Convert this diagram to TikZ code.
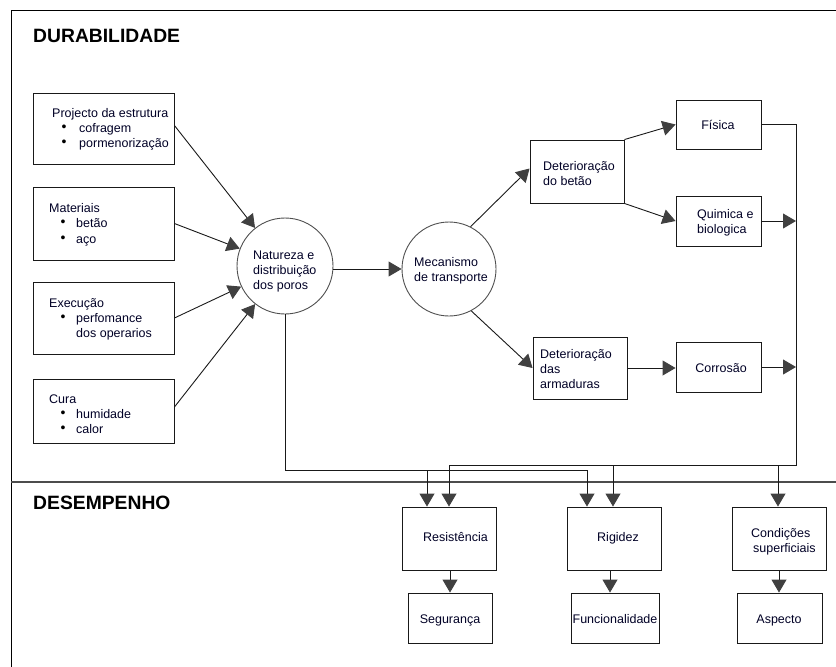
\documentclass[tikz,border=0pt]{standalone}
\usepackage{fontspec}
\setmainfont{Liberation Sans}
\usetikzlibrary{arrows.meta}
\definecolor{tipgray}{HTML}{404040}
\definecolor{circgray}{HTML}{505050}
\begin{document}
\begin{tikzpicture}[x=1pt,y=-1pt,
  ln/.style={draw=black!90, line width=0.9pt},
  arr/.style={ln, -{Triangle[length=13pt,width=15pt,color=tipgray]}},
  box/.style={draw=black!90, line width=0.9pt, inner sep=0pt, fill=white},
  circ/.style={draw=circgray, line width=0.9pt, circle, inner sep=0pt},
  txt/.style={inner sep=0pt, font=\fontsize{12.5}{15}\selectfont, text=black!85!blue},
  ttl/.style={inner sep=0pt, font=\fontsize{19.3}{22}\selectfont\bfseries},
  bul/.style={inner sep=0pt, font=\fontsize{14}{14}\selectfont}
]
\useasboundingbox (0,0) rectangle (836,667);
% frame
\draw[line width=1pt] (836,10) -- (11,10) -- (11,667);
\draw[draw=black!70, line width=1.3pt] (11,482) -- (836,482);
\node[ttl, anchor=base west] (tdur) at (33,42) {DURABILIDADE};
\node[ttl, anchor=base west] (tdes) at (33,509) {DESEMPENHO};

% left boxes
\node[box, minimum width=141pt, minimum height=71pt] (b1) at (103.5,128.5) {};
\node[box, minimum width=141pt, minimum height=73pt] (b2) at (103.5,223.5) {};
\node[box, minimum width=141pt, minimum height=72pt] (b3) at (103.5,318) {};
\node[box, minimum width=141pt, minimum height=64pt] (b4) at (103.5,411) {};

\node[txt, anchor=base west] (t1a) at (52,117) {Projecto da estrutura};
\node[bul] (u1b) at (64,128) {\textbullet};
\node[txt, anchor=base west] (t1b) at (79,132) {cofragem};
\node[bul] (u1c) at (64,143) {\textbullet};
\node[txt, anchor=base west] (t1c) at (79,147) {pormenorização};

\node[txt, anchor=base west] (t2a) at (49,212) {Materiais};
\node[bul] (u2b) at (63,223) {\textbullet};
\node[txt, anchor=base west] (t2b) at (76,227) {betão};
\node[bul] (u2c) at (63,239) {\textbullet};
\node[txt, anchor=base west] (t2c) at (76,243) {aço};

\node[txt, anchor=base west] (t3a) at (49,307) {Execução};
\node[bul] (u3b) at (63,318) {\textbullet};
\node[txt, anchor=base west] (t3b) at (76,322) {perfomance};
\node[txt, anchor=base west] (t3c) at (76,337) {dos operarios};

\node[txt, anchor=base west] (t4a) at (49,403) {Cura};
\node[bul] (u4b) at (63,414) {\textbullet};
\node[txt, anchor=base west] (t4b) at (76,418) {humidade};
\node[bul] (u4c) at (63,429) {\textbullet};
\node[txt, anchor=base west] (t4c) at (76,433) {calor};

% circles
\node[circ, minimum size=96pt] (n1) at (285,266) {};
\node[txt, anchor=base west] (n1a) at (253,259) {Natureza e};
\node[txt, anchor=base west] (n1b) at (253,274) {distribuição};
\node[txt, anchor=base west] (n1c) at (253,289) {dos poros};

\node[circ, minimum size=94pt] (n2) at (449,269) {};
\node[txt, anchor=base west] (n2a) at (414,266) {Mecanismo};
\node[txt, anchor=base west] (n2b) at (414,281) {de transporte};

% right boxes
\node[box, minimum width=94pt, minimum height=63pt] (db) at (577,171.5) {};
\node[txt, anchor=base west] (dba) at (543,170) {Deterioração};
\node[txt, anchor=base west] (dbb) at (543,185) {do betão};

\node[box, minimum width=85pt, minimum height=49pt] (fi) at (718.5,124.5) {};
\node[txt, anchor=base] (fia) at (718,129) {Física};

\node[box, minimum width=85pt, minimum height=50pt] (qb) at (718.5,221) {};
\node[txt, anchor=base west] (qba) at (697,218) {Quimica e};
\node[txt, anchor=base west] (qbb) at (697,233) {biologica};

\node[box, minimum width=94pt, minimum height=62pt] (da) at (580,368) {};
\node[txt, anchor=base west] (daa) at (540,358) {Deterioração};
\node[txt, anchor=base west] (dab) at (540,373) {das};
\node[txt, anchor=base west] (dac) at (540,388) {armaduras};

\node[box, minimum width=85pt, minimum height=50pt] (co) at (718.5,367) {};
\node[txt, anchor=base] (coa) at (721,372) {Corrosão};

% bottom boxes
\node[box, minimum width=94pt, minimum height=63pt] (res) at (449,538.5) {};
\node[txt, anchor=base west] (resa) at (423,541) {Resistência};
\node[box, minimum width=84pt, minimum height=50pt] (seg) at (450,618) {};
\node[txt, anchor=base] (sega) at (450,623) {Segurança};

\node[box, minimum width=94pt, minimum height=63pt] (rig) at (614,538.5) {};
\node[txt, anchor=base west] (riga) at (597,541) {Rigidez};
\node[box, minimum width=88pt, minimum height=50pt] (fun) at (615,618) {};
\node[txt, anchor=base] (funa) at (615,623) {Funcionalidade};

\node[box, minimum width=94pt, minimum height=63pt] (con) at (779,538.5) {};
\node[txt, anchor=base west] (cona) at (751,537) {Condições};
\node[txt, anchor=base west] (conb) at (753,552) {superficiais};
\node[box, minimum width=85pt, minimum height=50pt] (asp) at (779.5,618) {};
\node[txt, anchor=base] (aspa) at (779,623) {Aspecto};

% connectors: left inputs
\draw[arr] ([yshift=3pt]b1.east) -- (n1);
\draw[arr] (b2.east) -- (n1);
\draw[arr] (b3.east) -- (n1);
\draw[arr] ([yshift=4pt]b4.east) -- (n1);
\draw[arr] (n1.east |- n2.west) -- (n2.west);
\draw[arr] (n2.63) -- ([yshift=3pt]db.west);
\draw[arr] (n2.-62) -- (da.west);
\draw[arr] (db.north east) -- (fi.west);
\draw[arr] (db.south east) -- (qb.west);
\draw[arr] (da.east) -- (da.east -| co.west);

% right bus
\coordinate (rb) at (796,465);
\draw[arr] (fi.east) -- (fi.east -| rb) -- (rb) -| (res.north);
\draw[arr] (qb.east) -- (qb.east -| rb);
\draw[arr] (co.east) -- (co.east -| rb);
\coordinate (r2) at (613,465);
\draw[arr] (r2) -- (r2 |- rig.north);
\coordinate (r3) at (778,465);
\draw[arr] (r3) -- (r3 |- con.north);

% left bus
\coordinate (lb) at (587,470);
\draw[arr] (n1.south) |- (lb) -- (lb |- rig.north);
\coordinate (l2) at (427,470);
\draw[arr] (l2) -- (l2 |- res.north);

% lower arrows
\draw[arr] (res.south -| seg.north) -- (seg.north);
\coordinate (f1) at (610,570);
\draw[arr] (f1) -- (f1 |- fun.north);
\draw[arr] (con.south) -- (con.south |- asp.north);
\end{tikzpicture}
\end{document}
